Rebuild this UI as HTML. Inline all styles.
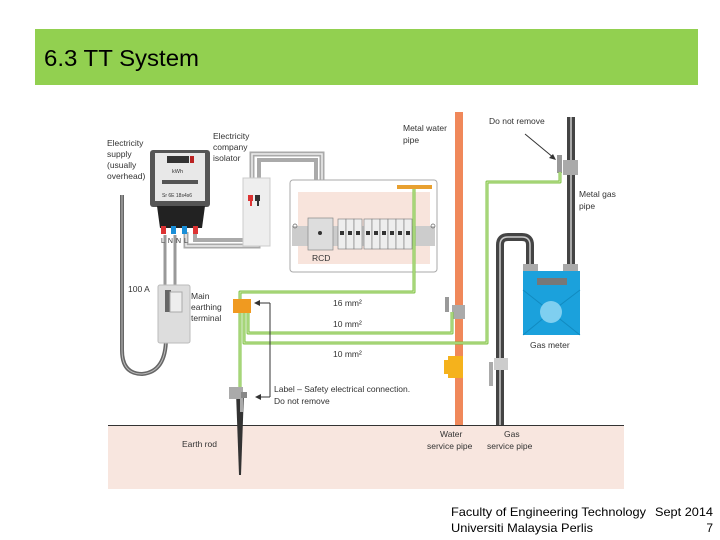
<!DOCTYPE html>
<html><head><meta charset="utf-8"><style>
body{margin:0;width:720px;height:540px;background:#fff;overflow:hidden;font-family:"Liberation Sans",sans-serif}
svg{position:absolute;left:0;top:0}
</style></head><body>
<svg width="720" height="540" viewBox="0 0 720 540" xmlns="http://www.w3.org/2000/svg" font-family="Liberation Sans, sans-serif">
<rect x="35" y="29" width="663" height="56" fill="#92d050"/>
<text x="44" y="66" font-size="23" fill="#000" textLength="155" lengthAdjust="spacingAndGlyphs">6.3 TT System</text>
<!-- ground -->
<rect x="108" y="425" width="516" height="64" fill="#f8e6df"/>
<line x1="108" y1="425.5" x2="624" y2="425.5" stroke="#333" stroke-width="1"/>
<!-- supply cable -->
<path d="M122 195 V350 Q122 374 142 374 Q166 372 166 338" fill="none" stroke="#666" stroke-width="4"/>
<path d="M122 195 V350 Q122 374 142 374 Q166 372 166 338" fill="none" stroke="#bbb" stroke-width="1"/>
<!-- meter to cutout cables -->
<line x1="165" y1="235" x2="165" y2="288" stroke="#999" stroke-width="3"/>
<line x1="175" y1="235" x2="175" y2="288" stroke="#999" stroke-width="3"/>
<!-- cutout -->
<rect x="158" y="285" width="32" height="58" rx="2" fill="#ddd" stroke="#bbb"/>
<rect x="165" y="290" width="6" height="22" fill="#666"/>
<rect x="170" y="292" width="12" height="20" fill="#eee" stroke="#aaa"/>
<!-- gray cables meter -> isolator -> CU -->
<path d="M186 232 V246 H258 V238" fill="none" stroke="#aaa" stroke-width="5"/>
<path d="M186 232 V246 H258 V238" fill="none" stroke="#eee" stroke-width="1.5"/>
<path d="M195 232 V240 H252 V238" fill="none" stroke="#aaa" stroke-width="4"/>
<path d="M252 178 V154 H322 V220" fill="none" stroke="#aaa" stroke-width="5"/>
<path d="M252 178 V154 H322 V220" fill="none" stroke="#eee" stroke-width="1.5"/>
<path d="M259 178 V160 H316 V220" fill="none" stroke="#aaa" stroke-width="4"/>
<!-- meter -->
<rect x="150" y="150" width="60" height="57" rx="3" fill="#555"/>
<rect x="155" y="153" width="50" height="48" fill="#e8e8e8"/>
<rect x="167" y="156" width="22" height="7" fill="#333"/>
<rect x="190" y="156" width="4" height="7" fill="#b22"/>
<text x="172" y="173" font-size="5.5" fill="#333">kWh</text>
<rect x="162" y="180" width="36" height="4" fill="#555"/>
<text x="162" y="197" font-size="5" fill="#333">Sr 6E 18s4s6</text>
<path d="M157 206 H205 L202 228 H160 Z" fill="#222"/>
<rect x="161" y="226" width="5" height="8" fill="#d33"/>
<rect x="171" y="226" width="5" height="8" fill="#1a8fd8"/>
<rect x="182" y="226" width="5" height="8" fill="#1a8fd8"/>
<rect x="193" y="226" width="5" height="8" fill="#d33"/>
<text x="161" y="243" font-size="7" fill="#333" letter-spacing="3">LNNL</text>
<!-- isolator -->
<rect x="243" y="178" width="27" height="68" fill="#eee" stroke="#ccc"/>
<rect x="248" y="195" width="5" height="6" fill="#d33"/><rect x="250" y="200" width="2" height="6" fill="#d33"/>
<rect x="255" y="195" width="5" height="6" fill="#333"/><rect x="257" y="200" width="2" height="6" fill="#333"/>
<!-- consumer unit -->
<rect x="290" y="180" width="147" height="92" rx="3" fill="#fff" stroke="#aaa"/>
<rect x="298" y="192" width="132" height="72" fill="#f8e4dc"/>
<rect x="292" y="226" width="143" height="20" fill="#ccc"/>
<rect x="308" y="218" width="25" height="32" fill="#ddd" stroke="#888" stroke-width="0.7"/>
<circle cx="320" cy="233" r="2" fill="#333"/>
<g fill="#eee" stroke="#777" stroke-width="0.6">
<rect x="338" y="219" width="8" height="30"/><rect x="346" y="219" width="8" height="30"/><rect x="354" y="219" width="8" height="30"/>
<rect x="364" y="219" width="8" height="30"/><rect x="372" y="219" width="8" height="30"/><rect x="380" y="219" width="8" height="30"/>
<rect x="388" y="219" width="8" height="30"/><rect x="396" y="219" width="8" height="30"/><rect x="404" y="219" width="8" height="30"/>
</g>
<g fill="#333"><rect x="340" y="231" width="4" height="4"/><rect x="348" y="231" width="4" height="4"/><rect x="356" y="231" width="4" height="4"/><rect x="366" y="231" width="4" height="4"/><rect x="374" y="231" width="4" height="4"/><rect x="382" y="231" width="4" height="4"/><rect x="390" y="231" width="4" height="4"/><rect x="398" y="231" width="4" height="4"/><rect x="406" y="231" width="4" height="4"/></g>
<circle cx="295" cy="226" r="2" fill="none" stroke="#666" stroke-width="0.7"/>
<circle cx="433" cy="226" r="2" fill="none" stroke="#666" stroke-width="0.7"/>
<rect x="397" y="185" width="35" height="4" fill="#e8a030"/>
<!-- water pipe -->
<rect x="455" y="112" width="8" height="313" fill="#f0885a"/>
<rect x="452" y="305" width="13" height="14" fill="#aaa"/>
<rect x="445" y="297" width="4" height="15" fill="#999"/>
<rect x="448" y="356" width="15" height="22" fill="#f5b21c"/>
<rect x="444" y="360" width="5" height="14" fill="#f5b21c"/>
<!-- gas pipe to meter -->
<path d="M500 425 V245 Q500 237 508 237 H522 Q530 237 530 245 V265" fill="none" stroke="#444" stroke-width="8"/>
<path d="M500 425 V245 Q500 237 508 237 H522 Q530 237 530 245 V265" fill="none" stroke="#ccc" stroke-width="1.5"/>
<rect x="567" y="117" width="8" height="150" fill="#444"/>
<line x1="571" y1="117" x2="571" y2="265" stroke="#ccc" stroke-width="1.5"/>
<rect x="563" y="160" width="15" height="15" fill="#aaa"/>
<rect x="557" y="155" width="5" height="18" fill="#999"/>
<rect x="494" y="358" width="14" height="12" fill="#ccc"/>
<rect x="489" y="362" width="4" height="24" fill="#aaa"/>
<!-- gas meter -->
<rect x="523" y="264" width="15" height="8" fill="#aaa"/><rect x="563" y="264" width="15" height="8" fill="#aaa"/>
<rect x="523" y="271" width="57" height="64" fill="#1ba1dc"/>
<path d="M523 290 L551 312 L580 290 M523 335 L551 312 L580 335" stroke="#118ac0" stroke-width="1" fill="none"/>
<rect x="537" y="278" width="30" height="7" fill="#777"/>
<circle cx="551" cy="312" r="11" fill="#7fcff0"/>
<!-- green earth wires -->
<g fill="none" stroke="#7cc242" stroke-width="3" stroke-linejoin="round">
<path d="M414 189 V292 H240 V302"/>
<path d="M248 312 V333 H452 V312"/>
<path d="M244 312 V343 H487 V182 H560 V172"/>
<path d="M240 312 V392"/>
</g>
<g fill="none" stroke="#e6f3c9" stroke-width="0.8">
<path d="M414 189 V292 H240 V302"/>
<path d="M248 312 V333 H452 V312"/>
<path d="M244 312 V343 H487 V182 H560 V172"/>
<path d="M240 312 V392"/>
</g>
<!-- MET -->
<rect x="233" y="299" width="18" height="14" fill="#f09a20"/>
<!-- earth rod -->
<path d="M236 392 H244 L241 475 H239 Z" fill="#333"/>
<rect x="229" y="387" width="14" height="12" fill="#aaa"/>
<rect x="241" y="392" width="6" height="6" fill="#888"/>
<rect x="240" y="398" width="3" height="14" fill="#aaa"/>
<!-- arrows -->
<g stroke="#333" stroke-width="1" fill="none">
<path d="M270 303 V397"/><path d="M270 303 H258"/><path d="M270 397 H259"/>
<path d="M525 134 L554 158"/>
</g>
<g fill="#333"><path d="M254 303 L260 300 L260 306 Z"/><path d="M255 397 L261 394 L261 400 Z"/><path d="M556 160 L549 158 L553 154 Z"/></g>
<!-- labels -->
<g font-size="8.5" fill="#333">
<text x="107" y="146">Electricity</text><text x="107" y="157">supply</text><text x="107" y="168">(usually</text><text x="107" y="179">overhead)</text>
<text x="213" y="139">Electricity</text><text x="213" y="150">company</text><text x="213" y="161">isolator</text>
<text x="403" y="131">Metal water</text><text x="403" y="143">pipe</text>
<text x="489" y="124">Do not remove</text>
<text x="579" y="197">Metal gas</text><text x="579" y="209">pipe</text>
<text x="312" y="261">RCD</text>
<text x="128" y="292">100 A</text>
<text x="191" y="299">Main</text><text x="191" y="310">earthing</text><text x="191" y="321">terminal</text>
<text x="333" y="306">16 mm²</text><text x="333" y="327">10 mm²</text><text x="333" y="357">10 mm²</text>
<text x="530" y="348">Gas meter</text>
<text x="274" y="392">Label – Safety electrical connection.</text><text x="274" y="404">Do not remove</text>
<text x="182" y="447">Earth rod</text>
<text x="440" y="437">Water</text><text x="427" y="449">service pipe</text>
<text x="504" y="437">Gas</text><text x="487" y="449">service pipe</text>
</g>
<g font-size="12" fill="#000">
<text x="451" y="516" textLength="195" lengthAdjust="spacingAndGlyphs">Faculty of Engineering Technology</text>
<text x="655" y="516" textLength="58" lengthAdjust="spacingAndGlyphs">Sept 2014</text>
<text x="451" y="532" textLength="142" lengthAdjust="spacingAndGlyphs">Universiti Malaysia Perlis</text>
<text x="713" y="532" text-anchor="end">7</text>
</g>
</svg>
</body></html>
